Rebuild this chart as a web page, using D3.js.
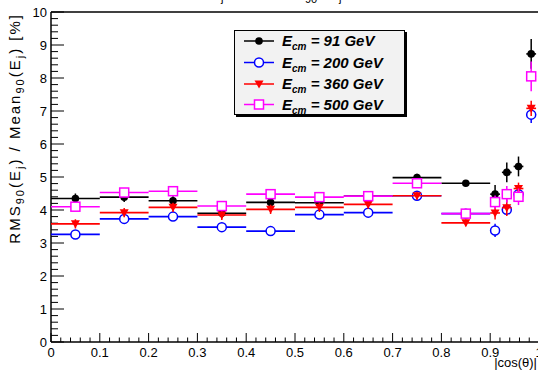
<!DOCTYPE html>
<html>
<head>
<meta charset="utf-8">
<script src="https://cdn.jsdelivr.net/npm/d3@7"></script>
<style>
  body { margin: 0; background: #fff; }
  text { font-family: "Liberation Sans", Arial, sans-serif; }
</style>
</head>
<body>
<div id="chart"></div>
<script>
// bin centres and half widths in |cos(theta)|
const binCenters = [0.05, 0.15, 0.25, 0.35, 0.45, 0.55, 0.65, 0.75, 0.85, 0.91, 0.934, 0.958, 0.984];
const binHalfWidths = [0.05, 0.05, 0.05, 0.05, 0.05, 0.05, 0.05, 0.05, 0.05, 0.01, 0.01, 0.01, 0.01];

// RMS90/Mean90 [%] per energy, with errors
const e91 = [4.35, 4.39, 4.28, 3.90, 4.23, 4.22, 4.42, 4.98, 4.81, 4.48, 5.14, 5.32, 8.73];
const e91Err = [0.15, 0.15, 0.14, 0.14, 0.14, 0.13, 0.13, 0.12, 0.08, 0.28, 0.30, 0.30, 0.45];
const e200 = [3.26, 3.73, 3.80, 3.48, 3.36, 3.86, 3.92, 4.43, 3.89, 3.38, 4.01, 4.48, 6.89];
const e200Err = [0.08, 0.08, 0.08, 0.08, 0.08, 0.08, 0.08, 0.08, 0.08, 0.2, 0.15, 0.12, 0.25];
const e360 = [3.58, 3.92, 4.08, 3.85, 4.02, 4.08, 4.17, 4.43, 3.61, 3.91, 4.07, 4.65, 7.08];
const e360Err = [0.14, 0.14, 0.14, 0.15, 0.14, 0.14, 0.13, 0.12, 0.10, 0.2, 0.25, 0.18, 0.23];
const e500 = [4.10, 4.53, 4.57, 4.12, 4.48, 4.39, 4.42, 4.81, 3.89, 4.24, 4.48, 4.40, 8.05];
const e500Err = [0.12, 0.12, 0.12, 0.12, 0.12, 0.12, 0.12, 0.12, 0.08, 0.2, 0.25, 0.25, 0.45];

const seriesNames = ["91 GeV", "200 GeV", "360 GeV", "500 GeV"];
const seriesColors = ["#000000", "#0000ff", "#ff0000", "#ff00ff"];
const seriesMarkers = ["dot", "circle", "triangle", "square"];

const xTicks = [0, 0.1, 0.2, 0.3, 0.4, 0.5, 0.6, 0.7, 0.8, 0.9, 1];
const yTicks = [0, 1, 2, 3, 4, 5, 6, 7, 8, 9, 10];

const W = 538, H = 370;
const svg = d3.select("#chart").append("svg")
    .attr("width", W)
    .attr("height", H);

const x = d3.scaleLinear().domain([0, 1]).range([51, 539]);
const y = d3.scaleLinear().domain([0, 10]).range([342, 12]);

// title sits above the picture, only its subscripts peek in
svg.append("text").attr("x", 221).attr("y", 2).attr("font-size", 11).text("j");
svg.append("text").attr("x", 305).attr("y", 3).attr("font-size", 11).text("90");
svg.append("text").attr("x", 339).attr("y", 2).attr("font-size", 11).text("j");

// frame
svg.append("line").attr("x1", x(0)).attr("x2", W).attr("y1", y(10)).attr("y2", y(10))
    .attr("stroke", "#000").attr("stroke-width", 1.5);

// x axis
const xAxis = svg.append("g");
xAxis.append("line").attr("x1", x(0)).attr("x2", W).attr("y1", y(0)).attr("y2", y(0))
    .attr("stroke", "#000").attr("stroke-width", 1.5);
const xMinor = d3.range(0, 50).map(i => i / 50);
xAxis.selectAll(".xminor").data(xMinor).enter().append("line")
    .attr("x1", d => x(d)).attr("x2", d => x(d))
    .attr("y1", y(0)).attr("y2", d => y(0) - (Math.abs(d * 10 - Math.round(d * 10)) < 1e-6 ? 9 : 4.5))
    .attr("stroke", "#000").attr("stroke-width", 1);
xAxis.selectAll(".xlab").data(xTicks).enter().append("text")
    .attr("x", d => x(d)).attr("y", y(0) + 15)
    .attr("text-anchor", "middle").attr("font-size", 13)
    .text(d => d);
svg.append("text").attr("x", 537).attr("y", 367).attr("text-anchor", "end")
    .attr("font-size", 13).text("|cos(θ)|");

// y axis
const yAxis = svg.append("g");
yAxis.append("line").attr("x1", x(0)).attr("x2", x(0)).attr("y1", y(0)).attr("y2", y(10))
    .attr("stroke", "#000").attr("stroke-width", 1.5);
const yMinor = d3.range(0, 51).map(i => i / 5);
yAxis.selectAll(".yminor").data(yMinor).enter().append("line")
    .attr("x1", x(0)).attr("x2", d => x(0) + (Math.abs(d - Math.round(d)) < 1e-6 ? 13 : 7))
    .attr("y1", d => y(d)).attr("y2", d => y(d))
    .attr("stroke", "#000").attr("stroke-width", 1);
yAxis.selectAll(".ylab").data(yTicks).enter().append("text")
    .attr("x", 47).attr("y", d => y(d) + 4.5)
    .attr("text-anchor", "end").attr("font-size", 13)
    .text(d => d);

const yTitle = svg.append("text")
    .attr("transform", "translate(20,13) rotate(-90)")
    .attr("text-anchor", "end").attr("font-size", 15)
    .attr("letter-spacing", 2);
yTitle.append("tspan").text("RMS");
yTitle.append("tspan").attr("font-size", 11).attr("dy", 3.5).text("90");
yTitle.append("tspan").attr("dy", -3.5).text("(E");
yTitle.append("tspan").attr("font-size", 11).attr("dy", 3.5).text("j");
yTitle.append("tspan").attr("dy", -3.5).text(") / Mean");
yTitle.append("tspan").attr("font-size", 11).attr("dy", 3.5).text("90");
yTitle.append("tspan").attr("dy", -3.5).text("(E");
yTitle.append("tspan").attr("font-size", 11).attr("dy", 3.5).text("j");
yTitle.append("tspan").attr("dy", -3.5).text(") [%]");

// markers
function drawMarker(g, type, color, cx, cy) {
    if (type === "dot") {
        g.append("circle").attr("cx", cx).attr("cy", cy).attr("r", 3.8).attr("fill", color);
    } else if (type === "circle") {
        g.append("circle").attr("cx", cx).attr("cy", cy).attr("r", 4.5)
            .attr("fill", "#fff").attr("stroke", color).attr("stroke-width", 1.5);
    } else if (type === "triangle") {
        g.append("path").attr("d", `M${cx - 4.5},${cy - 3.5}L${cx + 4.5},${cy - 3.5}L${cx},${cy + 4.5}Z`)
            .attr("fill", color);
    } else if (type === "square") {
        g.append("rect").attr("x", cx - 4.5).attr("y", cy - 4.5).attr("width", 9).attr("height", 9)
            .attr("fill", "#fff").attr("stroke", color).attr("stroke-width", 1.5);
    }
}

const allValues = [e91, e200, e360, e500];
const allErrors = [e91Err, e200Err, e360Err, e500Err];

allValues.forEach((vals, s) => {
    const color = seriesColors[s];
    const g = svg.append("g").attr("class", "series");
    const pts = vals.map((v, i) => ({c: binCenters[i], hw: binHalfWidths[i], v: v, e: allErrors[s][i]}));
    g.selectAll(".hbar").data(pts).enter().append("line")
        .attr("x1", d => x(d.c - d.hw)).attr("x2", d => x(d.c + d.hw))
        .attr("y1", d => y(d.v)).attr("y2", d => y(d.v))
        .attr("stroke", color).attr("stroke-width", 1.6);
    g.selectAll(".vbar").data(pts).enter().append("line")
        .attr("x1", d => x(d.c)).attr("x2", d => x(d.c))
        .attr("y1", d => y(d.v - d.e)).attr("y2", d => y(d.v + d.e))
        .attr("stroke", color).attr("stroke-width", 1.5);
    pts.forEach(d => drawMarker(g, seriesMarkers[s], color, x(d.c), y(d.v)));
});

// legend
const leg = svg.append("g");
leg.append("rect").attr("x", 236).attr("y", 32).attr("width", 171).attr("height", 85).attr("fill", "#000");
leg.append("rect").attr("x", 234.5).attr("y", 30.5).attr("width", 170).attr("height", 84)
    .attr("fill", "#f2f2f2").attr("stroke", "#000").attr("stroke-width", 1);
const legRows = [41, 62.5, 84, 104.5];
seriesNames.forEach((name, i) => {
    const ly = legRows[i];
    leg.append("line").attr("x1", 244).attr("x2", 274).attr("y1", ly).attr("y2", ly)
        .attr("stroke", seriesColors[i]).attr("stroke-width", 1.5);
    drawMarker(leg, seriesMarkers[i], seriesColors[i], 259, ly);
    const t = leg.append("text").attr("x", 282).attr("y", ly + 5)
        .attr("font-size", 15).attr("font-weight", "bold").attr("font-style", "italic");
    t.append("tspan").text("E");
    t.append("tspan").attr("font-size", 10).attr("dy", 4).text("cm");
    t.append("tspan").attr("dy", -4).text(" = " + name);
});
</script>
</body>
</html>
